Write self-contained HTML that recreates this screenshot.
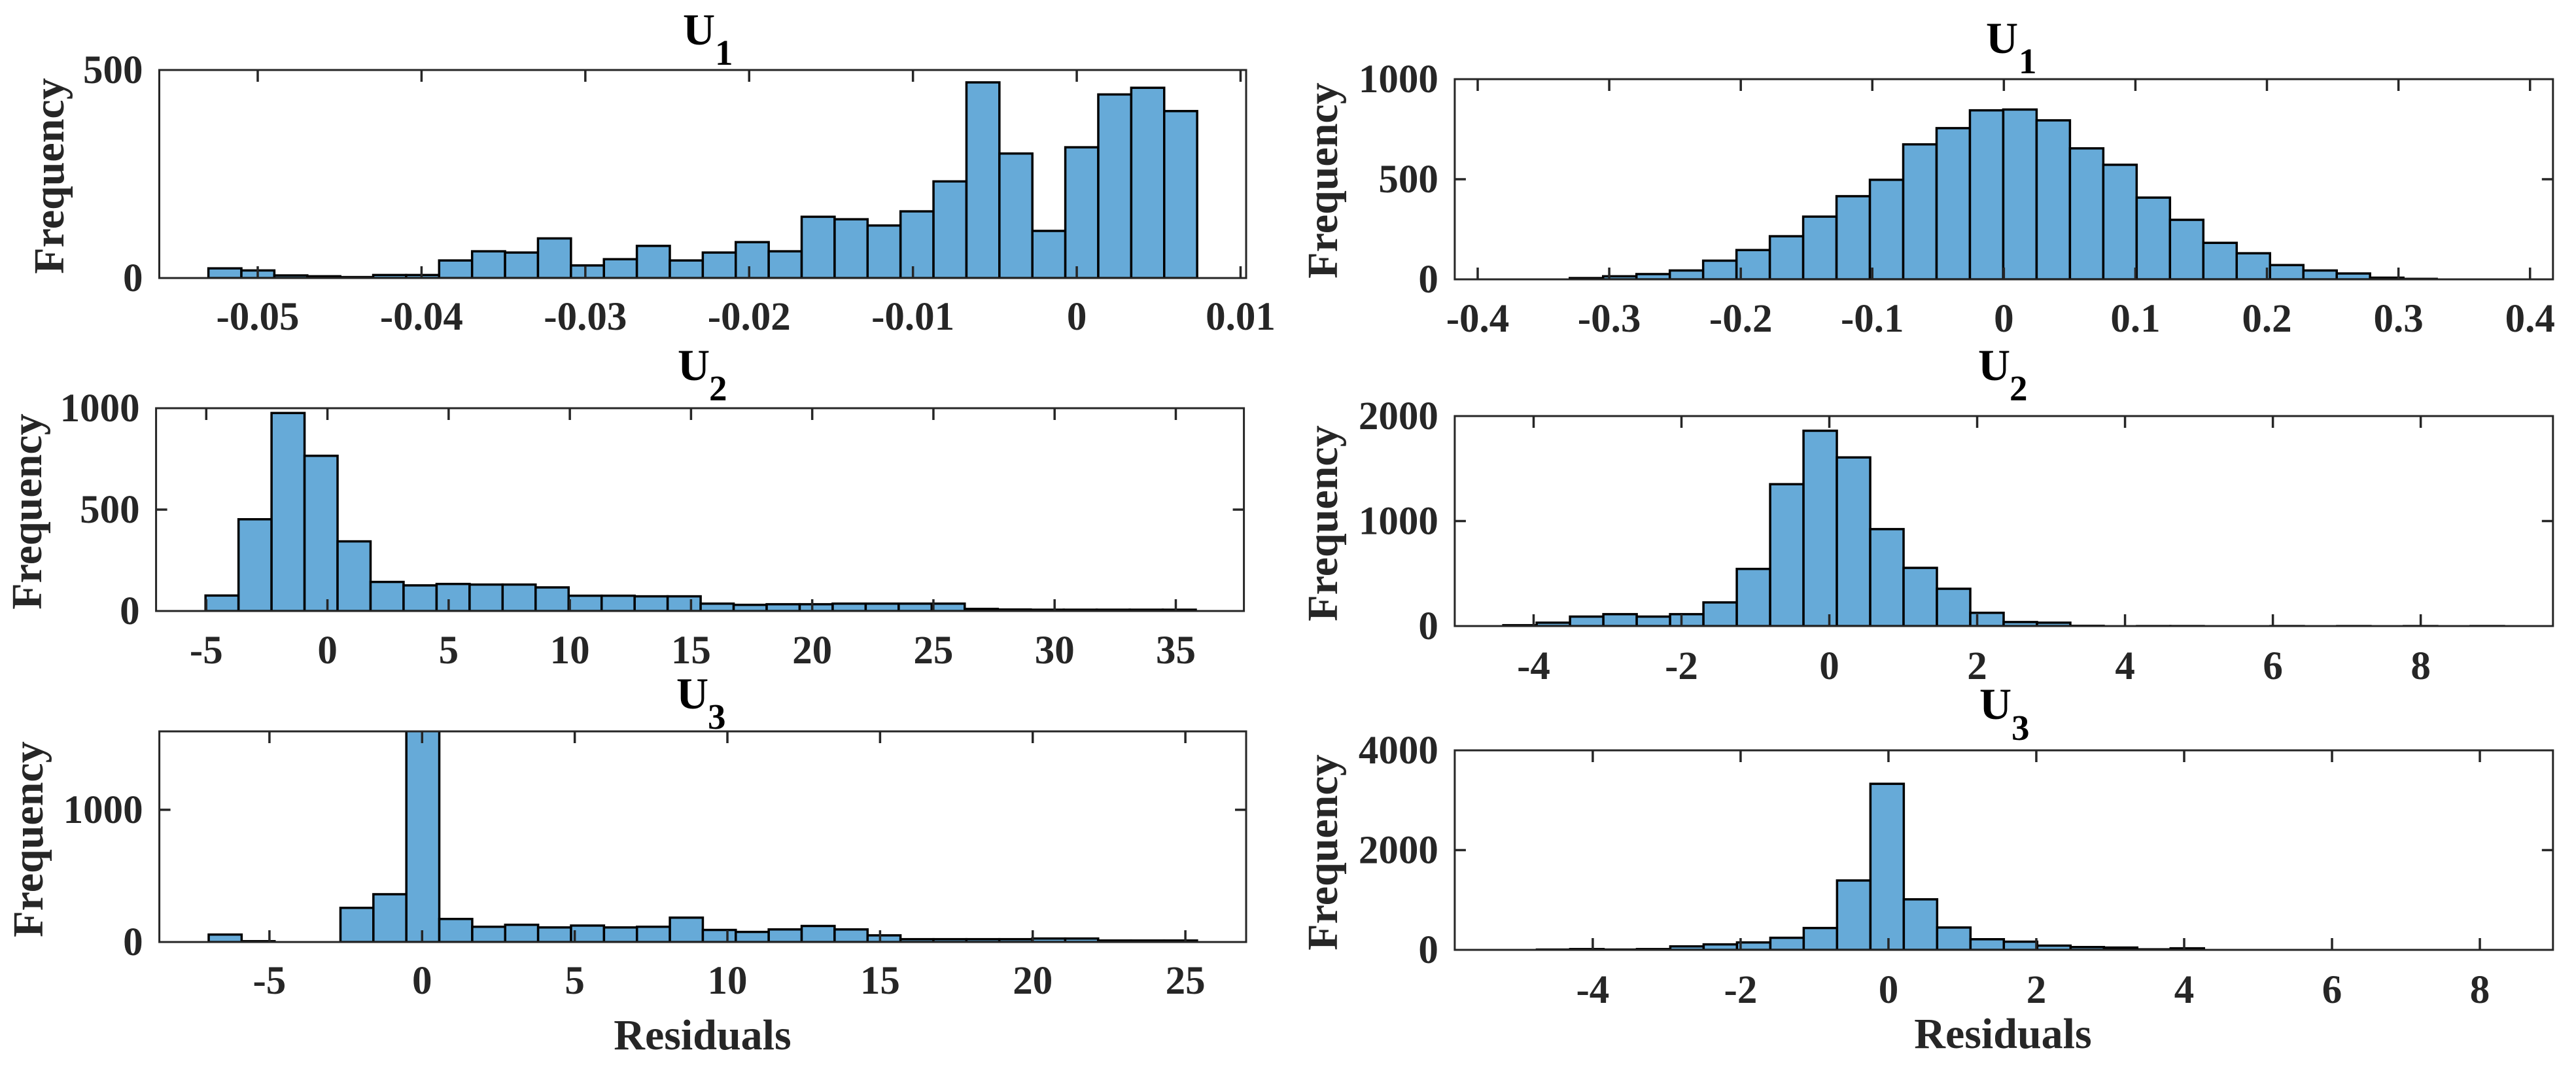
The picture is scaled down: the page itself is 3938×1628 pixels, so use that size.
<!DOCTYPE html>
<html lang="en">
<head>
<meta charset="utf-8">
<title>Residual histograms</title>
<style>
html,body{margin:0;padding:0;background:#fff;}
svg{display:block;}
text{font-family:"Liberation Serif",serif;font-weight:bold;}
.tick{font-size:61px;fill:#262626;}
.axl{font-size:66px;fill:#262626;}
.ttl{font-size:68px;fill:#000;}
.sub{font-size:55px;}
</style>
</head>
<body>
<svg id="figure" xmlns="http://www.w3.org/2000/svg" width="3938" height="1628" viewBox="0 0 3938 1628">
<rect x="0" y="0" width="3938" height="1628" fill="#ffffff"/>

<text class="ttl" x="1044" y="68">U<tspan class="sub" x="1093" y="99">1</tspan></text>
<text class="ttl" x="3036" y="81">U<tspan class="sub" x="3086" y="112">1</tspan></text>
<text class="ttl" x="1036" y="581">U<tspan class="sub" x="1084" y="612">2</tspan></text>
<text class="ttl" x="3024" y="581">U<tspan class="sub" x="3072" y="612">2</tspan></text>
<text class="ttl" x="1034" y="1083">U<tspan class="sub" x="1082" y="1114">3</tspan></text>
<text class="ttl" x="3026" y="1099">U<tspan class="sub" x="3075" y="1131">3</tspan></text>

<text class="axl" text-anchor="middle" transform="translate(97,269) rotate(-90)">Frequency</text>
<text class="axl" text-anchor="middle" transform="translate(63,782) rotate(-90)">Frequency</text>
<text class="axl" text-anchor="middle" transform="translate(65,1283) rotate(-90)">Frequency</text>
<text class="axl" text-anchor="middle" transform="translate(2044,276) rotate(-90)">Frequency</text>
<text class="axl" text-anchor="middle" transform="translate(2044,800) rotate(-90)">Frequency</text>
<text class="axl" text-anchor="middle" transform="translate(2044,1303) rotate(-90)">Frequency</text>

<text class="axl" text-anchor="middle" x="1074" y="1604">Residuals</text>
<text class="axl" text-anchor="middle" x="3062" y="1602">Residuals</text>

<g id="panels"></g>
</svg>

<script>
// Chart data (bin counts)
const leftU1Counts = [26,21,9,7,5,10,10,45,67,64,98,33,48,80,45,64,89,67,150,144,129,163,235,473,302,116,317,444,460,404];
const leftU2Counts = [82,458,982,771,349,149,132,139,136,136,122,81,81,78,78,42,36,39,39,42,42,42,42,16,13,12,12,12,12,12];
const leftU3Counts = [65,15,0,0,267,370,2000,183,124,139,119,133,119,124,193,100,85,104,130,104,59,30,30,30,30,35,35,20,20,20];
const rightU1Counts = [12,21,32,50,99,152,221,319,421,503,680,761,850,854,800,660,578,414,303,188,136,77,50,35,14,8];
const rightU2Counts = [19,43,101,124,101,124,236,555,1362,1871,1617,934,565,366,137,49,43,13,4,11,11,2,2,11,2,11,4,11,2,11];
const rightU3Counts = [29,39,29,39,93,133,172,265,461,1414,3352,1036,471,236,187,108,79,69,34,54,15,15,15,15,0,15];

const leftU1XTicks = [-0.05,-0.04,-0.03,-0.02,-0.01,0,0.01];
const leftU2XTicks = [-5,0,5,10,15,20,25,30,35];
const leftU3XTicks = [-5,0,5,10,15,20,25];
const rightU1XTicks = [-0.4,-0.3,-0.2,-0.1,0,0.1,0.2,0.3,0.4];
const rightU2XTicks = [-4,-2,0,2,4,6,8];
const rightU3XTicks = [-4,-2,0,2,4,6,8];

const leftU1YTicks = [0,500];
const leftU2YTicks = [0,500,1000];
const leftU3YTicks = [0,1000];
const rightU1YTicks = [0,500,1000];
const rightU2YTicks = [0,1000,2000];
const rightU3YTicks = [0,2000,4000];

const leftU1XLimits = [-0.05601,0.01034];
const leftU2XLimits = [-7.07,37.81];
const leftU3XLimits = [-8.606,26.99];
const rightU1XLimits = [-0.41745,0.41745];
const rightU2XLimits = [-5.067,9.789];
const rightU3XLimits = [-5.867,8.989];

const leftU1YMax = 500;
const leftU2YMax = 1000;
const leftU3YMax = 1593;
const rightU1YMax = 1000;
const rightU2YMax = 2000;
const rightU3YMax = 4000;

const leftU1Bins = [-0.05301,0.002012];
const leftU2Bins = [-5.03,1.3618];
const leftU3Bins = [-6.99,1.079];
const rightU1Bins = [-0.33,0.02535];
const rightU2Bins = [-4.41,0.4512];
const rightU3Bins = [-4.756,0.4512];

const NS = 'http://www.w3.org/2000/svg';
const AXIS = '#262626';
const root = document.getElementById('panels');

function make(parent, tag, attrs) {
  const el = document.createElementNS(NS, tag);
  for (const k in attrs) el.setAttribute(k, attrs[k]);
  parent.appendChild(el);
  return el;
}

function drawPanel(id, box, counts, bins, xLimits, yMax, xTicks, yTicks, labelGap) {
  const xScale = v => box.x0 + (v - xLimits[0]) / (xLimits[1] - xLimits[0]) * (box.x1 - box.x0);
  const yScale = v => box.y1 - v / yMax * (box.y1 - box.y0);

  const g = make(root, 'g', {});
  
  

  const defs = make(g, 'defs', {});
  const clip = make(defs, 'clipPath', { id: 'clip-' + id });
  make(clip, 'rect', { x: box.x0, y: box.y0, width: box.x1 - box.x0, height: box.y1 - box.y0 });

  const barsG = make(g, 'g', { 'clip-path': 'url(#clip-' + id + ')' });
  
  
  counts.forEach((c, i) => {
    if (c <= 0) return;
    const xa = xScale(bins[0] + i * bins[1]);
    const xb = xScale(bins[0] + (i + 1) * bins[1]);
    const top = yScale(c) + 1.75;
    const bar = make(barsG, 'rect', {
      x: xa, y: top, width: xb - xa, height: Math.max(box.y1 - top, 0.5),
      fill: '#66aad8', stroke: '#000', 'stroke-width': 3.5
    });
    
    
  });

  const frame = make(g, 'rect', {
    x: box.x0, y: box.y0, width: box.x1 - box.x0, height: box.y1 - box.y0,
    fill: 'none', stroke: AXIS, 'stroke-width': 3
  });
  
  

  xTicks.forEach(t => {
    const x = xScale(t);
    const lower = make(g, 'line', { x1: x, x2: x, y1: box.y1, y2: box.y1 - 18, stroke: AXIS, 'stroke-width': 3.5 });
    
    
    const upper = make(g, 'line', { x1: x, x2: x, y1: box.y0, y2: box.y0 + 18, stroke: AXIS, 'stroke-width': 3.5 });
    
    
    const label = make(g, 'text', { x: x, y: box.y1 + labelGap, 'text-anchor': 'middle', class: 'tick' });
    
    
    label.textContent = String(t);
  });

  yTicks.forEach(t => {
    const y = yScale(t);
    if (t > 0 && t < yMax) {
      const leftTick = make(g, 'line', { x1: box.x0, x2: box.x0 + 17, y1: y, y2: y, stroke: AXIS, 'stroke-width': 3.5 });
      
      
      const rightTick = make(g, 'line', { x1: box.x1, x2: box.x1 - 17, y1: y, y2: y, stroke: AXIS, 'stroke-width': 3.5 });
      
      
    }
    const label = make(g, 'text', { x: box.x0 - 25, y: y + 20, 'text-anchor': 'end', class: 'tick' });
    
    
    label.textContent = String(t);
  });
}

drawPanel('left-u1', {x0:243.5,x1:1905,y0:107,y1:425}, leftU1Counts, leftU1Bins, leftU1XLimits, leftU1YMax, leftU1XTicks, leftU1YTicks, 79);
drawPanel('left-u2', {x0:238.6,x1:1901.6,y0:624,y1:934}, leftU2Counts, leftU2Bins, leftU2XLimits, leftU2YMax, leftU2XTicks, leftU2YTicks, 80);
drawPanel('left-u3', {x0:243.6,x1:1905,y0:1118,y1:1440}, leftU3Counts, leftU3Bins, leftU3XLimits, leftU3YMax, leftU3XTicks, leftU3YTicks, 79);
drawPanel('right-u1', {x0:2223.9,x1:3902.8,y0:121,y1:427}, rightU1Counts, rightU1Bins, rightU1XLimits, rightU1YMax, rightU1XTicks, rightU1YTicks, 80);
drawPanel('right-u2', {x0:2223.9,x1:3902.8,y0:636,y1:957}, rightU2Counts, rightU2Bins, rightU2XLimits, rightU2YMax, rightU2XTicks, rightU2YTicks, 81);
drawPanel('right-u3', {x0:2223.9,x1:3902.8,y0:1147,y1:1452}, rightU3Counts, rightU3Bins, rightU3XLimits, rightU3YMax, rightU3XTicks, rightU3YTicks, 81);
</script>
</body>
</html>
